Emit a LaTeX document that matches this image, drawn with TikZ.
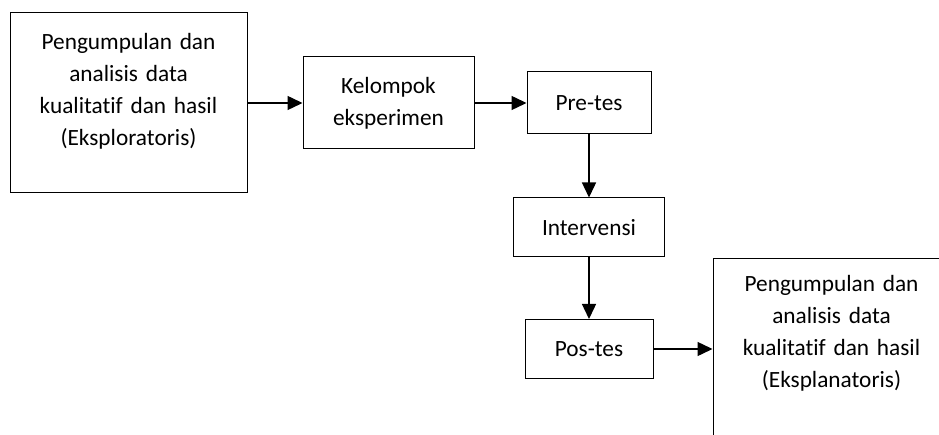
\documentclass[tikz,border=0pt]{standalone}
\usepackage{fontspec}
\setmainfont{Carlito}[Ligatures=NoCommon]
\usetikzlibrary{arrows.meta}
\begin{document}
\begin{tikzpicture}
		[x=1pt,y=-1pt,
		bigbox/.style={rectangle,draw=black,line width=1pt,text width=215pt,align=center,
inner xsep=11pt,inner ysep=15pt,text height=18pt,text depth=132pt,font=\fontsize{23.3}{32}\selectfont},
		box/.style={rectangle,draw=black,line width=1pt,align=center,inner sep=0pt,
font=\fontsize{23.3}{32}\selectfont},
		edgestyle/.style={>={Triangle[length=15pt,width=14pt]},<-,line width=1.4pt}]
		\useasboundingbox (0, 0) rectangle (939, 435);
		\clip (0, 0) rectangle (939, 435);
		\node at (128.5, 103) (kual1) [bigbox,inner ysep=19pt,text depth=124pt] {Pengumpulan dan\\analisis data\\kualitatif dan hasil\\(Eksploratoris)};
		\node at (388.5, 103) (kel) [box,minimum width=171pt,minimum height=92pt] {Kelompok\\eksperimen}
			edge [edgestyle] (kual1);
		\node at (589, 103) (pre) [box,minimum width=124pt,minimum height=62pt] {Pre-tes}
			edge [edgestyle] (kel);
		\node at (589, 227.5) (int) [box,minimum width=151pt,minimum height=59pt] {Intervensi}
			edge [edgestyle] (pre);
		\node at (589, 349) (pos) [box,minimum width=128pt,minimum height=59pt] {Pos-tes}
			edge [edgestyle] (int);
		\node at (831.5, 349) (kual2) [bigbox] {Pengumpulan dan\\analisis data\\kualitatif dan hasil\\(Eksplanatoris)}
			edge [edgestyle] (pos);
	\end{tikzpicture}
\end{document}
